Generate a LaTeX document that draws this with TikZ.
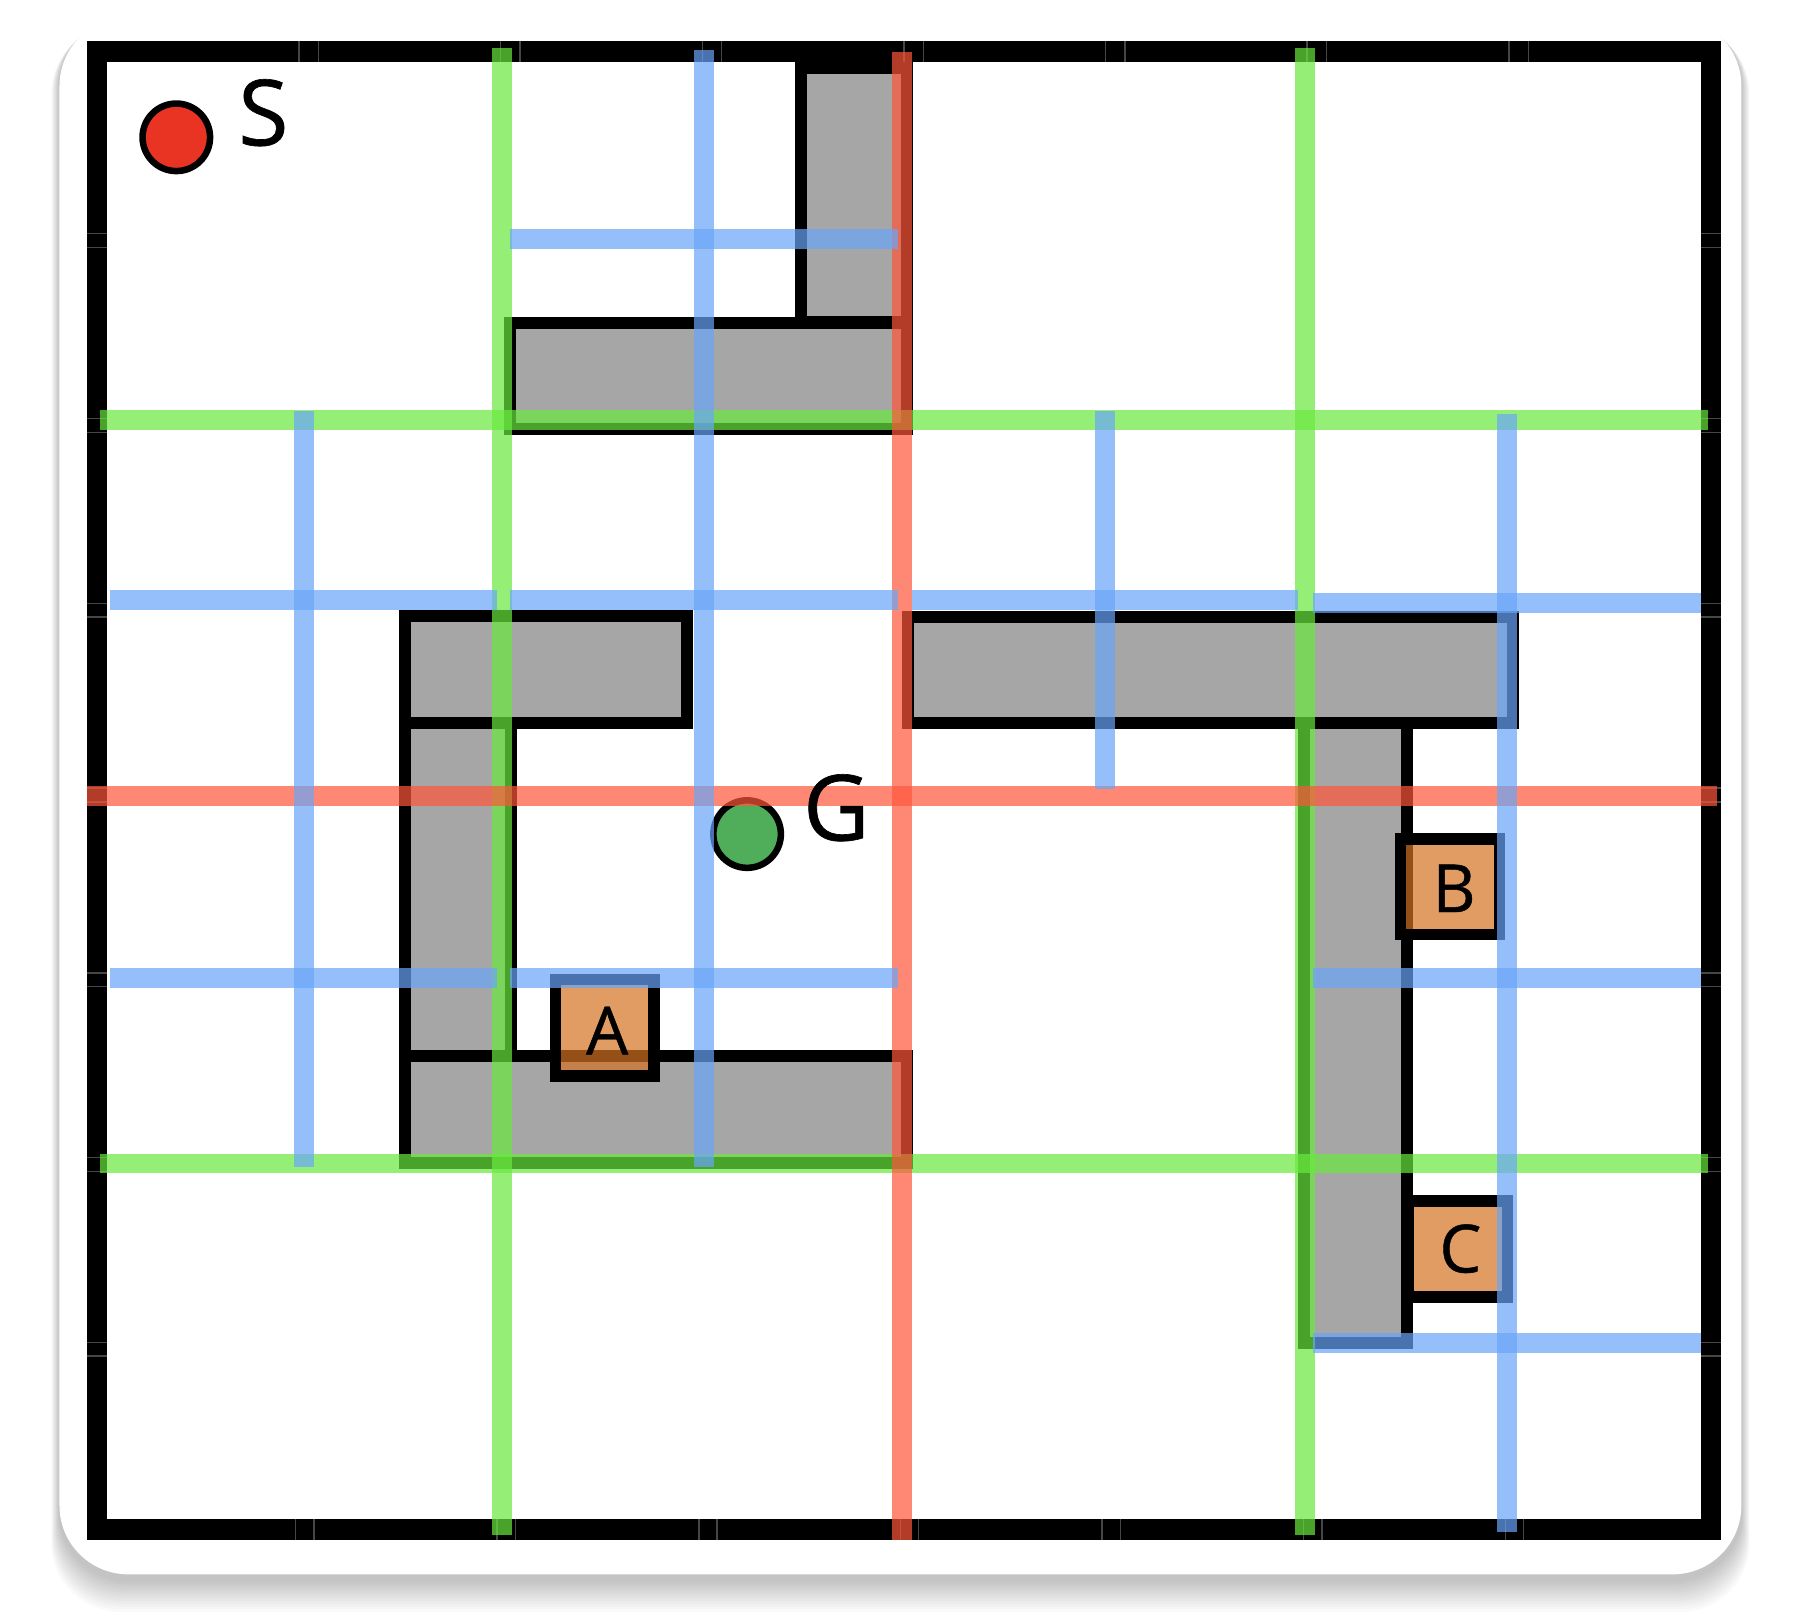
\documentclass[tikz,border=0pt]{standalone}
\usepackage{fontspec}
\newfontfamily\labfont[FakeBold=0.7]{Open Sans}
\definecolor{wallgray}{RGB}{166,166,166}
\definecolor{boxorange}{RGB}{211,114,34}
\definecolor{pgreen}{RGB}{105,233,62}
\definecolor{pred}{RGB}{255,86,59}
\definecolor{pblue}{RGB}{105,165,248}
\definecolor{sred}{RGB}{233,52,35}
\definecolor{ggreen}{RGB}{80,174,90}
\definecolor{tickgray}{RGB}{70,70,70}
\begin{document}
\begin{tikzpicture}[x=0.01cm,y=-0.01cm,
  wall/.style={fill=wallgray, draw=black, line width=0.105cm},
  crate/.style={fill=boxorange, fill opacity=0.7, draw=black, draw opacity=1, line width=0.10cm},
  gline/.style={draw=pgreen, draw opacity=0.7, line width=0.173cm},
  rline/.style={draw=pred, draw opacity=0.7, line width=0.173cm},
  bline/.style={draw=pblue, draw opacity=0.7, line width=0.173cm},
  ticksty/.style={draw=tickgray, line width=0.35pt},
  biglabel/.style={font=\labfont\fontsize{22.7}{26}\selectfont, inner sep=0pt},
  smalllabel/.style={font=\labfont\fontsize{16.5}{19}\selectfont, inner sep=0pt},
  dot/.style={circle, draw=black, line width=0.057cm, minimum size=0.59cm, inner sep=0pt}
]
\useasboundingbox (0,0) rectangle (1568,1411);
\fill[white] (0,0) rectangle (1568,1411);
% card shadow
\foreach \k in {1,...,12}{
  \fill[black, opacity=0.019, rounded corners=0.6cm] (52-\k*0.6, 15+\k*0.6) rectangle (1522+\k*0.6, 1380+\k*2.4);
}
% card
\fill[white, rounded corners=0.6cm] (52,15) rectangle (1522,1376);
% outer frame
\draw[line width=0.18cm] (84.8,44.8) rectangle (1495.3,1337);
% frame ticks
\foreach \gx in {261.3,437.5,613.8,790,966.3,1142.5,1318.8}{
  \draw[ticksty] (\gx,36) -- (\gx,53.8);
  \draw[ticksty] (\gx+17,36) -- (\gx+17,53.8);
  \draw[ticksty] (\gx-3,1328) -- (\gx-3,1346);
  \draw[ticksty] (\gx+13,1328) -- (\gx+13,1346);
}
\foreach \gy in {206.3,367.8,529.3,690.8,852.3,1013.8,1175.3}{
  \draw[ticksty] (75.8,\gy-2) -- (93.8,\gy-2);
  \draw[ticksty] (75.8,\gy+10) -- (93.8,\gy+10);
  \draw[ticksty] (1486.3,\gy-2) -- (1504.3,\gy-2);
  \draw[ticksty] (1486.3,\gy+10) -- (1504.3,\gy+10);
}
% walls
\draw[wall] (700.25,59.25) rectangle (792.75,281.75);
\draw[wall] (445.75,282.25) rectangle (792.75,374.75);
\draw[wall] (353.75,538.45) rectangle (600.45,631.75);
\draw[wall] (353.75,631.75) rectangle (446.25,922.65);
\draw[wall] (353.75,922.65) rectangle (792.55,1016.15);
\draw[wall] (1139.95,632.25) rectangle (1230.05,1173.75);
\draw[wall] (793.65,539.25) rectangle (1322.75,632.25);
% crates
\draw[crate] (485.4,856) rectangle (571.8,940.3);
\draw[crate] (1224.3,733.4) rectangle (1310.4,816.6);
\draw[crate] (1231,1049.5) rectangle (1317.7,1133.6);
% start and goal
\node[dot, fill=sred] (S) at (154.1,120) {};
\node[dot, fill=ggreen] (G) at (653,729) {};
% green lines
\draw[gline] (438.8,42) -- (438.8,1341.7);
\draw[gline] (1140.5,42) -- (1140.5,1341.7);
\draw[gline] (87.3,367.2) -- (1492.5,367.2);
\draw[gline] (87.3,1017) -- (1492.5,1017);
% red lines
\draw[rline] (788.5,45.7) -- (788.5,1346);
\draw[rline] (75.8,695.5) -- (1501,695.5);
% blue lines
\draw[bline] (615.4,43.6) -- (615.4,1019.6);
\draw[bline] (265.9,359) -- (265.9,1020);
\draw[bline] (965.7,359) -- (965.7,689.6);
\draw[bline] (1317.2,362) -- (1317.2,1339);
\draw[bline] (445.6,208.8) -- (784.5,208.8);
\draw[bline] (96,524.4) -- (434.3,524.4);
\draw[bline] (445.8,524.4) -- (784.5,524.4);
\draw[bline] (796.7,524.4) -- (1134.4,524.4);
\draw[bline] (1147.7,527) -- (1486.5,527);
\draw[bline] (96,855) -- (434.3,855);
\draw[bline] (445.8,855) -- (784.5,855);
\draw[bline] (1147.7,855) -- (1486.5,855);
\draw[bline] (1147.7,1173.8) -- (1486.5,1173.8);
% labels
\node[biglabel] (Slab) at (230.2,98.5) {S};
\node[biglabel] (Glab) at (731,706) {G};
\node[smalllabel] (Alab) at (530.7,900.7) {A};
\node[smalllabel] (Blab) at (1270.9,776.4) {B};
\node[smalllabel] (Clab) at (1276.4,1091.4) {C};
\end{tikzpicture}
\end{document}
